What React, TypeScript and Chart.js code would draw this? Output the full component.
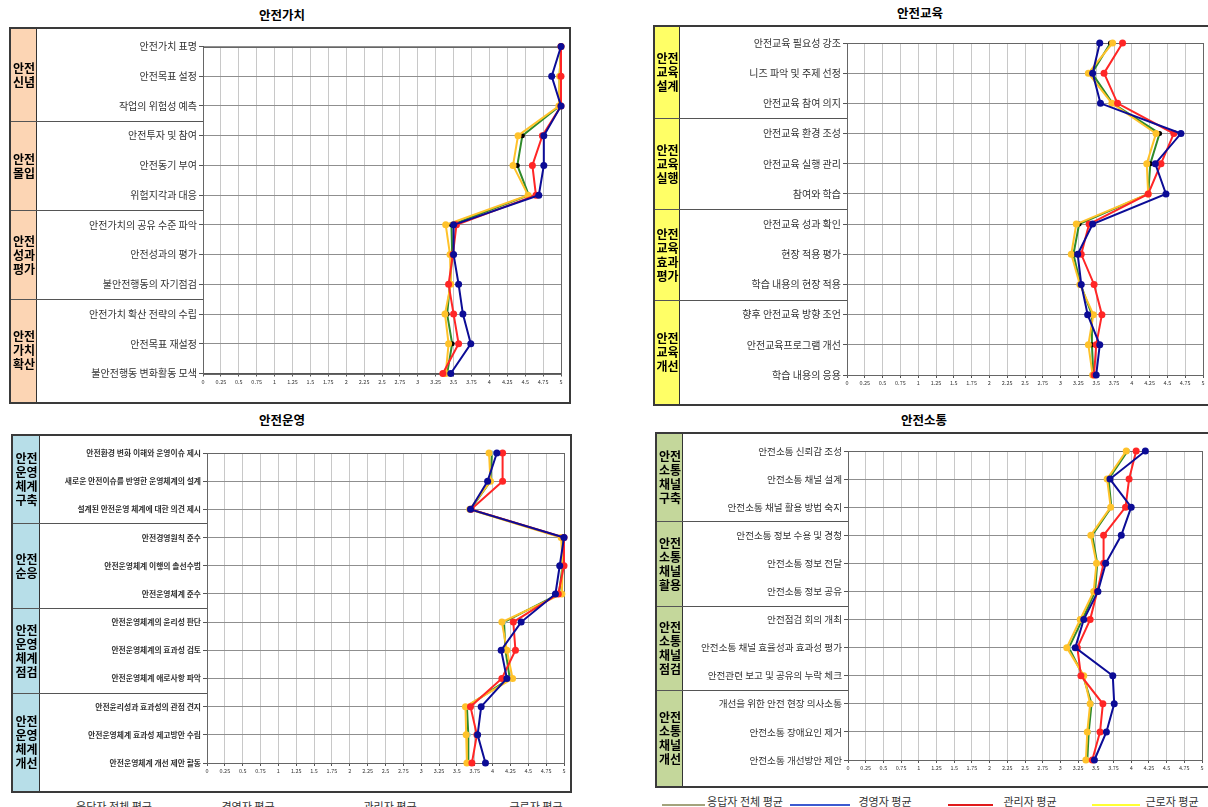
import React, { useEffect, useRef } from "react";
import { Chart, registerables } from "chart.js";
Chart.register(...registerables);

const FONT = '"Noto Sans CJK KR", "Noto Sans", sans-serif';

const seriesNames = ["응답자 전체 평균", "경영자 평균", "관리자 평균", "근로자 평균"];
const xMin = 0;
const xMax = 5;
const xStep = 0.25;

// ---------- 안전가치 ----------
const valueTitle = "안전가치";
const valueGroups = ["안전\n신념", "안전\n몰입", "안전\n성과\n평가", "안전\n가치\n확산"];
const valueCategories = [
  "안전가치 표명", "안전목표 설정", "작업의 위험성 예측",
  "안전투자 및 참여", "안전동기 부여", "위험지각과 대응",
  "안전가치의 공유 수준 파악", "안전성과의 평가", "불안전행동의 자기점검",
  "안전가치 확산 전략의 수립", "안전목표 재설정", "불안전행동 변화활동 모색",
];
const valueTotal = [5.0, 4.98, 4.98, 4.46, 4.39, 4.55, 3.47, 3.48, 3.45, 3.41, 3.48, 3.41];
const valueExec = [5.0, 4.87, 5.0, 4.76, 4.76, 4.69, 3.5, 3.5, 3.57, 3.63, 3.74, 3.46];
const valueMgr = [5.0, 5.0, 5.0, 4.74, 4.6, 4.65, 3.54, 3.49, 3.43, 3.5, 3.57, 3.35];
const valueWorker = [5.0, 4.98, 4.97, 4.4, 4.33, 4.54, 3.39, 3.45, 3.46, 3.38, 3.43, 3.39];

// ---------- 안전교육 ----------
const eduTitle = "안전교육";
const eduGroups = ["안전\n교육\n설계", "안전\n교육\n실행", "안전\n교육\n효과\n평가", "안전\n교육\n개선"];
const eduCategories = [
  "안전교육 필요성 강조", "니즈 파악 및 주제 선정", "안전교육 참여 의지",
  "안전교육 환경 조성", "안전교육 실행 관리", "참여와 학습",
  "안전교육 성과 확인", "현장 적용 평가", "학습 내용의 현장 적용",
  "향후 안전교육 방향 조언", "안전교육프로그램 개선", "학습 내용의 응용",
];
const eduTotal = [3.7, 3.44, 3.73, 4.39, 4.26, 4.23, 3.26, 3.18, 3.28, 3.44, 3.44, 3.46];
const eduExec = [3.55, 3.45, 3.56, 4.69, 4.33, 4.48, 3.45, 3.24, 3.29, 3.38, 3.55, 3.5];
const eduMgr = [3.87, 3.61, 3.8, 4.59, 4.41, 4.23, 3.4, 3.29, 3.47, 3.58, 3.5, 3.47];
const eduWorker = [3.73, 3.39, 3.72, 4.34, 4.21, 4.23, 3.22, 3.15, 3.27, 3.46, 3.39, 3.45];

// ---------- 안전운영 ----------
const opTitle = "안전운영";
const opGroups = ["안전\n운영\n체계\n구축", "안전\n순응", "안전\n운영\n체계\n점검", "안전\n운영\n체계\n개선"];
const opCategories = [
  "안전환경 변화 이해와 운영이슈 제시", "새로운 안전이슈를 반영한 운영체계의 설계", "설계된 안전운영 체계에 대한 의견 제시",
  "안전경영원칙 준수", "안전운영체계 이행의 솔선수범", "안전운영체계 준수",
  "안전운영체계의 윤리성 판단", "안전운영체계의 효과성 검토", "안전운영체계 애로사항 파악",
  "안전윤리성과 효과성의 관점 견지", "안전운영체계 효과성 제고방안 수립", "안전운영체계 개선 제안 활동",
];
const opTotal = [3.99, 3.97, 3.69, 4.98, 4.98, 4.93, 4.16, 4.18, 4.24, 3.64, 3.66, 3.66];
const opExec = [4.06, 3.93, 3.69, 5.0, 4.94, 4.88, 4.4, 4.12, 4.2, 3.84, 3.79, 3.9];
const opMgr = [4.14, 4.14, 3.7, 5.0, 5.0, 4.92, 4.29, 4.32, 4.13, 3.69, 3.78, 3.71];
const opWorker = [3.95, 3.97, 3.68, 4.96, 4.98, 4.97, 4.13, 4.2, 4.28, 3.62, 3.63, 3.64];

// ---------- 안전소통 ----------
const commTitle = "안전소통";
const commGroups = ["안전\n소통\n채널\n구축", "안전\n소통\n채널\n활용", "안전\n소통\n채널\n점검", "안전\n소통\n채널\n개선"];
const commCategories = [
  "안전소통 신뢰감 조성", "안전소통 채널 설계", "안전소통 채널 활용 방법 숙지",
  "안전소통 정보 수용 및 경청", "안전소통 정보 전달", "안전소통 정보 공유",
  "안전점검 회의 개최", "안전소통 채널 효율성과 효과성 평가", "안전관련 보고 및 공유의 누락 체크",
  "개선을 위한 안전 현장 의사소통", "안전소통 장애요인 제거", "안전소통 개선방안 제안",
];
const commTotal = [3.95, 3.68, 3.72, 3.45, 3.52, 3.49, 3.31, 3.12, 3.32, 3.44, 3.4, 3.38];
const commExec = [4.2, 3.7, 4.0, 3.86, 3.64, 3.53, 3.33, 3.21, 3.74, 3.76, 3.65, 3.48];
const commMgr = [4.07, 3.97, 3.92, 3.61, 3.61, 3.52, 3.42, 3.24, 3.29, 3.6, 3.56, 3.45];
const commWorker = [3.93, 3.66, 3.71, 3.43, 3.51, 3.47, 3.28, 3.09, 3.33, 3.42, 3.38, 3.36];

const GREEN = "#2f8a2a";
const NAVY = "#0c0c96";
const RED = "#ff2626";
const GOLD = "#ffc22a";

type PanelCfg = {
  title: string;
  titleX: number;
  titleY: number;
  groups: string[];
  categories: string[];
  total: number[];
  exec: number[];
  mgr: number[];
  worker: number[];
  groupColor: string;
  totalMarker: string;
  box: { x: number; y: number; w: number; h: number };
  colRight: number;
  plotLeft: number;
  plotRight: number;
  plotTop: number;
  plotBottom: number;
  labelFont: { size: number; weight: string };
};

const panels: PanelCfg[] = [
  {
    title: valueTitle, titleX: 282, titleY: 15,
    groups: valueGroups, categories: valueCategories,
    total: valueTotal, exec: valueExec, mgr: valueMgr, worker: valueWorker,
    groupColor: "#fcd5b4", totalMarker: "#000000",
    box: { x: 9, y: 27, w: 562, h: 377 },
    colRight: 37, plotLeft: 203, plotRight: 561, plotTop: 46.5, plotBottom: 373.5,
    labelFont: { size: 10, weight: "normal" },
  },
  {
    title: eduTitle, titleX: 920, titleY: 13,
    groups: eduGroups, categories: eduCategories,
    total: eduTotal, exec: eduExec, mgr: eduMgr, worker: eduWorker,
    groupColor: "#ffff66", totalMarker: "#000000",
    box: { x: 653, y: 25, w: 557, h: 381 },
    colRight: 680, plotLeft: 847, plotRight: 1203, plotTop: 43, plotBottom: 375,
    labelFont: { size: 10, weight: "normal" },
  },
  {
    title: opTitle, titleX: 282, titleY: 420,
    groups: opGroups, categories: opCategories,
    total: opTotal, exec: opExec, mgr: opMgr, worker: opWorker,
    groupColor: "#b7dee8", totalMarker: "#8fc3dc",
    box: { x: 11, y: 434, w: 561, h: 359 },
    colRight: 40, plotLeft: 207, plotRight: 564, plotTop: 453, plotBottom: 763,
    labelFont: { size: 7.8, weight: "bold" },
  },
  {
    title: commTitle, titleX: 924, titleY: 420,
    groups: commGroups, categories: commCategories,
    total: commTotal, exec: commExec, mgr: commMgr, worker: commWorker,
    groupColor: "#c4d79b", totalMarker: "#8fc3dc",
    box: { x: 655, y: 432, w: 555, h: 356 },
    colRight: 683, plotLeft: 848, plotRight: 1202, plotTop: 451, plotBottom: 760,
    labelFont: { size: 9.6, weight: "normal" },
  },
];

const BORDER = 2;

function Panel({ cfg }: { cfg: PanelCfg }) {
  const ref = useRef<HTMLCanvasElement>(null);
  const cw = cfg.box.w - BORDER * 2;
  const ch = cfg.box.h - BORDER * 2;
  const ox = cfg.box.x + BORDER;
  const oy = cfg.box.y + BORDER;

  useEffect(() => {
    const canvas = ref.current;
    if (!canvas) return;
    const colW = cfg.colRight - ox;
    const yAxisW = cfg.plotLeft - cfg.colRight;
    const padRight = ox + cw - cfg.plotRight;
    const padTop = cfg.plotTop - oy;
    const xAxisH = oy + ch - cfg.plotBottom;

    const groupPlugin = {
      id: "groupColumn",
      beforeDraw(chart: any) {
        const ctx = chart.ctx as CanvasRenderingContext2D;
        const ys = chart.scales.y;
        const area = chart.chartArea;
        const H = chart.height;
        ctx.save();
        ctx.fillStyle = cfg.groupColor;
        ctx.fillRect(0, 0, colW, H);
        ctx.strokeStyle = "#333";
        ctx.lineWidth = 1;
        ctx.beginPath();
        ctx.moveTo(colW - 0.5, 0);
        ctx.lineTo(colW - 0.5, H);
        ctx.stroke();
        const per = cfg.categories.length / cfg.groups.length;
        const bounds = [0];
        ctx.strokeStyle = "#555";
        for (let g = 1; g < cfg.groups.length; g++) {
          const idx = g * per;
          const yb = Math.round((ys.getPixelForValue(idx - 1) + ys.getPixelForValue(idx)) / 2) + 0.5;
          bounds.push(yb);
          ctx.beginPath();
          ctx.moveTo(0, yb);
          ctx.lineTo(area.left, yb);
          ctx.stroke();
        }
        bounds.push(H);
        ctx.fillStyle = "#000";
        ctx.font = `bold 12px ${FONT}`;
        ctx.textAlign = "center";
        ctx.textBaseline = "middle";
        const lh = 14;
        cfg.groups.forEach((name, i) => {
          const lines = name.split("\n");
          const cy = (bounds[i] + bounds[i + 1]) / 2;
          lines.forEach((ln, j) => {
            ctx.fillText(ln, colW / 2, cy + (j - (lines.length - 1) / 2) * lh);
          });
        });
        ctx.restore();
      },
      beforeDatasetsDraw(chart: any) {
        const ctx = chart.ctx as CanvasRenderingContext2D;
        const a = chart.chartArea;
        ctx.save();
        ctx.strokeStyle = "#666";
        ctx.lineWidth = 1;
        ctx.strokeRect(Math.round(a.left) + 0.5, Math.round(a.top) + 0.5, Math.round(a.right - a.left), Math.round(a.bottom - a.top));
        ctx.restore();
      },
    };

    const mk = (label: string, data: number[], color: string, marker: string, radius: number, order: number) => ({
      label,
      data,
      borderColor: color,
      backgroundColor: marker,
      pointBackgroundColor: marker,
      pointBorderColor: marker,
      pointBorderWidth: 0,
      pointRadius: radius,
      borderWidth: 2,
      tension: 0,
      order,
      clip: false as const,
    });

    const chart = new Chart(canvas, {
      type: "line",
      data: {
        labels: cfg.categories,
        datasets: [
          mk(seriesNames[1], cfg.exec, NAVY, NAVY, 3.5, 0),
          mk(seriesNames[2], cfg.mgr, RED, RED, 3.5, 1),
          mk(seriesNames[3], cfg.worker, GOLD, GOLD, 3.5, 2),
          mk(seriesNames[0], cfg.total, GREEN, cfg.totalMarker, 2.5, 3),
        ],
      },
      options: {
        animation: false,
        responsive: false,
        maintainAspectRatio: false,
        indexAxis: "y",
        layout: { padding: { left: colW, top: padTop, right: padRight, bottom: 0 } },
        plugins: {
          legend: { display: false },
          title: { display: false },
          tooltip: { enabled: false },
        },
        scales: {
          x: {
            type: "linear",
            position: "bottom",
            min: xMin,
            max: xMax,
            ticks: {
              stepSize: xStep,
              autoSkip: false,
              maxRotation: 0,
              padding: 2,
              color: "#333",
              font: { size: 5.5, family: FONT },
              callback: (v: any) => String(v),
            },
            grid: { color: "#c8c8c8", lineWidth: 1, tickLength: 3, tickColor: "#555" },
            border: { display: true, color: "#555" },
            afterFit: (s: any) => {
              s.height = xAxisH;
            },
          },
          y: {
            type: "category",
            ticks: {
              autoSkip: false,
              padding: 2,
              color: "#333",
              font: { size: cfg.labelFont.size, family: FONT, weight: cfg.labelFont.weight as any },
            },
            grid: { color: "#8f8f8f", lineWidth: 1, tickLength: 4, tickColor: "#555" },
            border: { display: true, color: "#555" },
            afterFit: (s: any) => {
              s.width = yAxisW;
            },
          },
        },
      } as any,
      plugins: [groupPlugin],
    });
    return () => chart.destroy();
  }, []);

  return (
    <>
      <div
        style={{
          position: "absolute",
          left: cfg.titleX - 80,
          width: 160,
          top: cfg.titleY - 9,
          height: 18,
          lineHeight: "18px",
          textAlign: "center",
          fontFamily: FONT,
          fontWeight: "bold",
          fontSize: 12.5,
          color: "#000",
        }}
      >
        {cfg.title}
      </div>
      <div
        style={{
          position: "absolute",
          left: cfg.box.x,
          top: cfg.box.y,
          width: cfg.box.w,
          height: cfg.box.h,
          border: `${BORDER}px solid #3a3a3a`,
          boxSizing: "border-box",
          background: "#fff",
        }}
      >
        <canvas ref={ref} width={cw} height={ch} style={{ display: "block", width: cw, height: ch }} />
      </div>
    </>
  );
}

const legendTextStyle = (cx: number, cy: number): React.CSSProperties => ({
  position: "absolute",
  left: cx - 60,
  width: 120,
  top: cy - 8,
  height: 16,
  lineHeight: "16px",
  textAlign: "center",
  fontFamily: FONT,
  fontSize: 11,
  color: "#333",
  whiteSpace: "nowrap",
});

const legendLines = [
  { x1: 662, x2: 705, color: "#a3a37c" },
  { x1: 790, x2: 850, color: "#3c5ad0" },
  { x1: 948, x2: 993, color: "#e01b1b" },
  { x1: 1092, x2: 1140, color: "#ffff33" },
];
const legendRightCenters = [745, 885, 1030, 1172];
const legendLeftCenters = [114, 248, 390, 536];

export default function App() {
  return (
    <div
      style={{
        position: "fixed",
        left: 0,
        top: 0,
        width: 1208,
        height: 807,
        overflow: "hidden",
        background: "#fff",
      }}
    >
      {panels.map((p, i) => (
        <Panel key={i} cfg={p} />
      ))}
      {seriesNames.map((n, i) => (
        <div key={"l" + i} style={legendTextStyle(legendLeftCenters[i], 806)}>
          {n}
        </div>
      ))}
      {seriesNames.map((n, i) => (
        <div key={"r" + i} style={legendTextStyle(legendRightCenters[i], 801)}>
          {n}
        </div>
      ))}
      {legendLines.map((l, i) => (
        <div
          key={"ln" + i}
          style={{
            position: "absolute",
            left: l.x1,
            width: l.x2 - l.x1,
            top: 804,
            height: 2,
            background: l.color,
          }}
        />
      ))}
    </div>
  );
}
